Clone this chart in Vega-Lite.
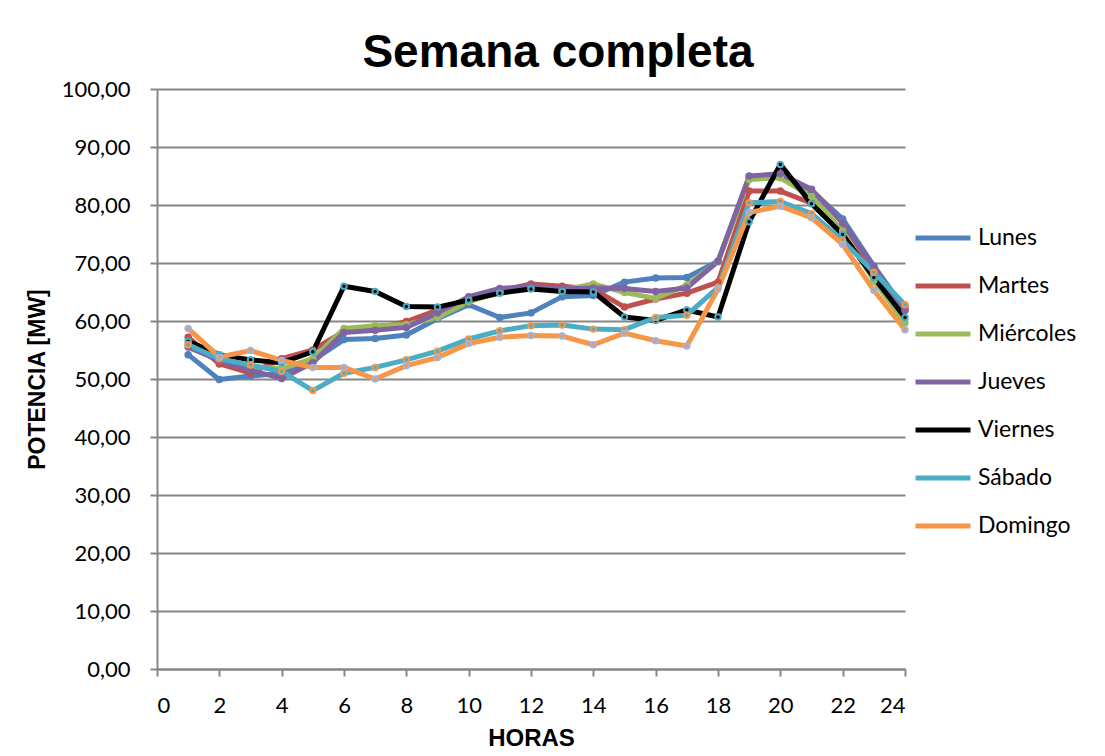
{
  "$schema": "https://vega.github.io/schema/vega-lite/v6.json",
  "width": 748,
  "height": 580,
  "autosize": {"type": "none"},
  "padding": {"left": 157, "top": 89, "right": 200, "bottom": 87},
  "background": "white",
  "config": {
    "locale": {"number": {"decimal": ",", "thousands": ".", "grouping": [3], "currency": ["", " €"]}},
    "view": {"stroke": null},
    "font": "Lato"
  },
  "title": {"text": "Semana completa", "font": "Liberation Sans", "fontSize": 46, "fontWeight": "bold", "color": "black", "offset": 1, "dx": 27},
  "data": {"values": [
    {"dia":"Lunes","hora":1,"mw":54.2},{"dia":"Lunes","hora":2,"mw":49.9},{"dia":"Lunes","hora":3,"mw":50.5},{"dia":"Lunes","hora":4,"mw":51.0},{"dia":"Lunes","hora":5,"mw":53.2},{"dia":"Lunes","hora":6,"mw":56.8},{"dia":"Lunes","hora":7,"mw":57.0},{"dia":"Lunes","hora":8,"mw":57.6},{"dia":"Lunes","hora":9,"mw":60.4},{"dia":"Lunes","hora":10,"mw":62.8},{"dia":"Lunes","hora":11,"mw":60.6},{"dia":"Lunes","hora":12,"mw":61.4},{"dia":"Lunes","hora":13,"mw":64.2},{"dia":"Lunes","hora":14,"mw":64.4},{"dia":"Lunes","hora":15,"mw":66.7},{"dia":"Lunes","hora":16,"mw":67.4},{"dia":"Lunes","hora":17,"mw":67.5},{"dia":"Lunes","hora":18,"mw":70.3},{"dia":"Lunes","hora":19,"mw":84.6},{"dia":"Lunes","hora":20,"mw":85.0},{"dia":"Lunes","hora":21,"mw":82.5},{"dia":"Lunes","hora":22,"mw":77.6},{"dia":"Lunes","hora":23,"mw":69.5},{"dia":"Lunes","hora":24,"mw":62.0},
    {"dia":"Martes","hora":1,"mw":57.2},{"dia":"Martes","hora":2,"mw":52.6},{"dia":"Martes","hora":3,"mw":51.0},{"dia":"Martes","hora":4,"mw":53.5},{"dia":"Martes","hora":5,"mw":55.0},{"dia":"Martes","hora":6,"mw":58.2},{"dia":"Martes","hora":7,"mw":58.7},{"dia":"Martes","hora":8,"mw":59.9},{"dia":"Martes","hora":9,"mw":61.9},{"dia":"Martes","hora":10,"mw":63.6},{"dia":"Martes","hora":11,"mw":65.2},{"dia":"Martes","hora":12,"mw":66.4},{"dia":"Martes","hora":13,"mw":66.0},{"dia":"Martes","hora":14,"mw":65.5},{"dia":"Martes","hora":15,"mw":62.4},{"dia":"Martes","hora":16,"mw":63.8},{"dia":"Martes","hora":17,"mw":64.8},{"dia":"Martes","hora":18,"mw":66.7},{"dia":"Martes","hora":19,"mw":82.4},{"dia":"Martes","hora":20,"mw":82.4},{"dia":"Martes","hora":21,"mw":80.3},{"dia":"Martes","hora":22,"mw":75.5},{"dia":"Martes","hora":23,"mw":68.0},{"dia":"Martes","hora":24,"mw":62.5},
    {"dia":"Miércoles","hora":1,"mw":56.0},{"dia":"Miércoles","hora":2,"mw":53.2},{"dia":"Miércoles","hora":3,"mw":52.1},{"dia":"Miércoles","hora":4,"mw":51.8},{"dia":"Miércoles","hora":5,"mw":53.5},{"dia":"Miércoles","hora":6,"mw":58.7},{"dia":"Miércoles","hora":7,"mw":59.2},{"dia":"Miércoles","hora":8,"mw":59.4},{"dia":"Miércoles","hora":9,"mw":60.6},{"dia":"Miércoles","hora":10,"mw":63.3},{"dia":"Miércoles","hora":11,"mw":65.0},{"dia":"Miércoles","hora":12,"mw":65.8},{"dia":"Miércoles","hora":13,"mw":65.3},{"dia":"Miércoles","hora":14,"mw":66.4},{"dia":"Miércoles","hora":15,"mw":64.9},{"dia":"Miércoles","hora":16,"mw":63.9},{"dia":"Miércoles","hora":17,"mw":66.2},{"dia":"Miércoles","hora":18,"mw":70.2},{"dia":"Miércoles","hora":19,"mw":84.4},{"dia":"Miércoles","hora":20,"mw":84.7},{"dia":"Miércoles","hora":21,"mw":81.5},{"dia":"Miércoles","hora":22,"mw":75.5},{"dia":"Miércoles","hora":23,"mw":67.0},{"dia":"Miércoles","hora":24,"mw":59.7},
    {"dia":"Jueves","hora":1,"mw":55.5},{"dia":"Jueves","hora":2,"mw":53.2},{"dia":"Jueves","hora":3,"mw":51.5},{"dia":"Jueves","hora":4,"mw":50.1},{"dia":"Jueves","hora":5,"mw":52.8},{"dia":"Jueves","hora":6,"mw":58.0},{"dia":"Jueves","hora":7,"mw":58.4},{"dia":"Jueves","hora":8,"mw":58.9},{"dia":"Jueves","hora":9,"mw":61.4},{"dia":"Jueves","hora":10,"mw":64.2},{"dia":"Jueves","hora":11,"mw":65.6},{"dia":"Jueves","hora":12,"mw":66.0},{"dia":"Jueves","hora":13,"mw":65.5},{"dia":"Jueves","hora":14,"mw":65.7},{"dia":"Jueves","hora":15,"mw":65.6},{"dia":"Jueves","hora":16,"mw":65.1},{"dia":"Jueves","hora":17,"mw":65.7},{"dia":"Jueves","hora":18,"mw":70.3},{"dia":"Jueves","hora":19,"mw":85.0},{"dia":"Jueves","hora":20,"mw":85.4},{"dia":"Jueves","hora":21,"mw":82.7},{"dia":"Jueves","hora":22,"mw":76.9},{"dia":"Jueves","hora":23,"mw":69.3},{"dia":"Jueves","hora":24,"mw":61.8},
    {"dia":"Viernes","hora":1,"mw":56.5},{"dia":"Viernes","hora":2,"mw":54.2},{"dia":"Viernes","hora":3,"mw":53.3},{"dia":"Viernes","hora":4,"mw":52.8},{"dia":"Viernes","hora":5,"mw":54.7},{"dia":"Viernes","hora":6,"mw":66.0},{"dia":"Viernes","hora":7,"mw":65.1},{"dia":"Viernes","hora":8,"mw":62.5},{"dia":"Viernes","hora":9,"mw":62.4},{"dia":"Viernes","hora":10,"mw":63.6},{"dia":"Viernes","hora":11,"mw":64.8},{"dia":"Viernes","hora":12,"mw":65.5},{"dia":"Viernes","hora":13,"mw":65.1},{"dia":"Viernes","hora":14,"mw":65.0},{"dia":"Viernes","hora":15,"mw":60.7},{"dia":"Viernes","hora":16,"mw":60.1},{"dia":"Viernes","hora":17,"mw":61.9},{"dia":"Viernes","hora":18,"mw":60.7},{"dia":"Viernes","hora":19,"mw":77.1},{"dia":"Viernes","hora":20,"mw":87.0},{"dia":"Viernes","hora":21,"mw":80.2},{"dia":"Viernes","hora":22,"mw":74.9},{"dia":"Viernes","hora":23,"mw":67.5},{"dia":"Viernes","hora":24,"mw":60.6},
    {"dia":"Sábado","hora":1,"mw":55.9},{"dia":"Sábado","hora":2,"mw":53.5},{"dia":"Sábado","hora":3,"mw":52.4},{"dia":"Sábado","hora":4,"mw":51.3},{"dia":"Sábado","hora":5,"mw":48.0},{"dia":"Sábado","hora":6,"mw":51.0},{"dia":"Sábado","hora":7,"mw":52.0},{"dia":"Sábado","hora":8,"mw":53.3},{"dia":"Sábado","hora":9,"mw":54.8},{"dia":"Sábado","hora":10,"mw":56.9},{"dia":"Sábado","hora":11,"mw":58.3},{"dia":"Sábado","hora":12,"mw":59.2},{"dia":"Sábado","hora":13,"mw":59.3},{"dia":"Sábado","hora":14,"mw":58.6},{"dia":"Sábado","hora":15,"mw":58.5},{"dia":"Sábado","hora":16,"mw":60.6},{"dia":"Sábado","hora":17,"mw":61.0},{"dia":"Sábado","hora":18,"mw":65.8},{"dia":"Sábado","hora":19,"mw":80.4},{"dia":"Sábado","hora":20,"mw":80.6},{"dia":"Sábado","hora":21,"mw":78.5},{"dia":"Sábado","hora":22,"mw":73.9},{"dia":"Sábado","hora":23,"mw":68.4},{"dia":"Sábado","hora":24,"mw":62.8},
    {"dia":"Domingo","hora":1,"mw":58.7},{"dia":"Domingo","hora":2,"mw":53.8},{"dia":"Domingo","hora":3,"mw":54.9},{"dia":"Domingo","hora":4,"mw":53.2},{"dia":"Domingo","hora":5,"mw":52.0},{"dia":"Domingo","hora":6,"mw":52.0},{"dia":"Domingo","hora":7,"mw":50.0},{"dia":"Domingo","hora":8,"mw":52.3},{"dia":"Domingo","hora":9,"mw":53.7},{"dia":"Domingo","hora":10,"mw":56.1},{"dia":"Domingo","hora":11,"mw":57.2},{"dia":"Domingo","hora":12,"mw":57.5},{"dia":"Domingo","hora":13,"mw":57.4},{"dia":"Domingo","hora":14,"mw":55.9},{"dia":"Domingo","hora":15,"mw":57.9},{"dia":"Domingo","hora":16,"mw":56.6},{"dia":"Domingo","hora":17,"mw":55.7},{"dia":"Domingo","hora":18,"mw":65.5},{"dia":"Domingo","hora":19,"mw":78.7},{"dia":"Domingo","hora":20,"mw":79.8},{"dia":"Domingo","hora":21,"mw":77.8},{"dia":"Domingo","hora":22,"mw":73.2},{"dia":"Domingo","hora":23,"mw":65.3},{"dia":"Domingo","hora":24,"mw":58.5}
  ]},
  "encoding": {
    "x": {"field": "hora", "type": "quantitative",
      "scale": {"domain": [0, 24], "nice": false, "zero": true},
      "axis": {"title": "HORAS", "values": [0,2,4,6,8,10,12,14,16,18,20,22,24], "grid": false,
        "domainColor": "#868686", "domainWidth": 2, "tickColor": "#868686", "tickWidth": 2, "tickSize": 7,
        "labelFont": "Lato", "labelFontSize": 22, "labelColor": "black", "labelPadding": 19,
        "titleFont": "Liberation Sans", "titleFontSize": 24, "titleFontWeight": "bold", "titleColor": "black", "titlePadding": 10}},
    "y": {"field": "mw", "type": "quantitative",
      "scale": {"domain": [0, 100], "nice": false},
      "axis": {"title": "POTENCIA [MW]", "values": [0,10,20,30,40,50,60,70,80,90,100], "format": ".2f",
        "grid": true, "gridColor": "#868686", "gridWidth": 2,
        "domainColor": "#868686", "domainWidth": 2, "tickColor": "#868686", "tickWidth": 2, "tickSize": 7,
        "labelFont": "Lato", "labelFontSize": 22, "labelColor": "black", "labelPadding": 20,
        "titleFont": "Liberation Sans", "titleFontSize": 23, "titleFontWeight": "bold", "titleColor": "black", "titlePadding": 12}}
  },
  "layer": [
    {
      "mark": {"type": "line", "strokeWidth": 5, "strokeJoin": "round", "strokeCap": "round"},
      "encoding": {
        "color": {"field": "dia", "type": "nominal",
          "scale": {"domain": ["Lunes","Martes","Miércoles","Jueves","Viernes","Sábado","Domingo"],
            "range": ["#4F81BD","#C0504D","#9BBB59","#8064A2","#000000","#4BACC6","#F79646"]},
          "legend": {"title": null, "orient": "none", "legendX": 756, "legendY": 119, "symbolType": "stroke",
            "symbolStrokeWidth": 5, "symbolSize": 3025, "labelFont": "Lato", "labelFontSize": 23, "labelColor": "black",
            "labelOffset": 5, "rowPadding": 6}}
      }
    },
    {
      "mark": {"type": "point", "shape": "circle", "filled": false, "size": 30, "strokeWidth": 2, "opacity": 1},
      "encoding": {
        "stroke": {"field": "dia", "type": "nominal",
          "scale": {"domain": ["Lunes","Martes","Miércoles","Jueves","Viernes","Sábado","Domingo"],
            "range": ["#4F81BD","#C0504D","#9BBB59","#8064A2","#4BACC6","#F79646","#9DB5E0"]},
          "legend": null},
        "fill": {"field": "dia", "type": "nominal",
          "scale": {"domain": ["Lunes","Martes","Miércoles","Jueves","Viernes","Sábado","Domingo"],
            "range": ["#4F81BD","#C0504D","#9BBB59","#8064A2","#000000","#4BACC6","#F79646"]},
          "legend": null}
      }
    }
  ]
}
